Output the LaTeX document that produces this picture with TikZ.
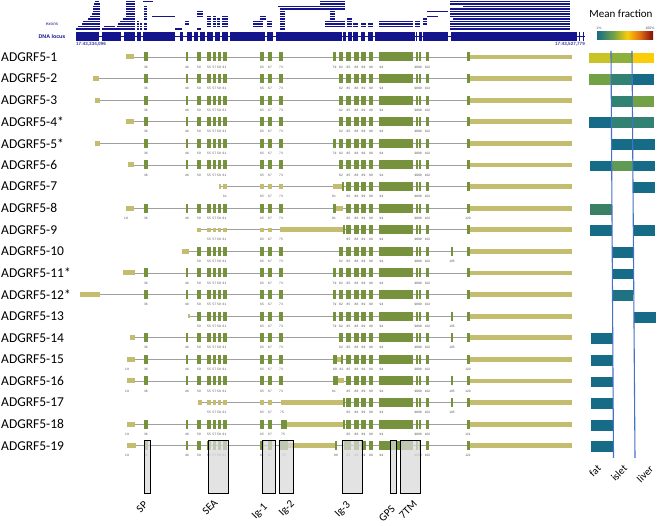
\documentclass[tikz,border=0pt]{standalone}
\usepackage{fontspec}
\setmainfont{Carlito}
\newfontfamily\arialf{Liberation Sans}
\definecolor{cdsc}{RGB}{118,146,60}
\definecolor{utrc}{RGB}{196,189,112}
\definecolor{navyc}{RGB}{20,20,140}
\definecolor{tealc}{RGB}{22,108,135}
\definecolor{tgreen}{RGB}{50,130,115}
\definecolor{sgreen}{RGB}{58,128,100}
\definecolor{mgreen}{RGB}{115,162,70}
\definecolor{lgreen}{RGB}{95,155,85}
\definecolor{ogreen}{RGB}{140,176,60}
\definecolor{ygreen}{RGB}{200,196,40}
\definecolor{yelc}{RGB}{250,205,10}
\definecolor{orc}{RGB}{225,115,20}
\definecolor{drc}{RGB}{130,10,10}
\definecolor{lineb}{RGB}{68,114,196}
\definecolor{numc}{RGB}{80,80,80}
\pgfdeclarehorizontalshading{heat}{100bp}{color(0bp)=(tealc); color(25bp)=(tealc); color(40bp)=(mgreen); color(52bp)=(yelc); color(63bp)=(orc); color(75bp)=(drc); color(100bp)=(drc)}
\tikzset{
  intr/.style={draw=gray!75, line width=0.7pt},
  num/.style={font=\arialf\fontsize{3.2}{3.5}\selectfont, text=numc, inner sep=0pt},
  rowlab/.style={font=\fontsize{13.5}{15}\selectfont, anchor=west, inner sep=0pt},
  domlab/.style={font=\fontsize{11}{12}\selectfont, rotate=45, inner sep=0pt},
  tislab/.style={font=\fontsize{10.5}{11}\selectfont, rotate=45, inner sep=0pt},
  dombox/.style={draw=black, line width=0.6pt, fill=gray!30, fill opacity=0.75},
  vline/.style={draw=lineb, line width=1.1pt}
}
\newcommand\XC[2]{\fill[cdsc] (#1,-4.5) rectangle (#2,4.5);}
\newcommand\XU[2]{\fill[utrc] (#1,-2.5) rectangle (#2,2.5);}
\newcommand\XN[2]{\fill[utrc] (#1,-2.2) rectangle (#2,2.2);}
\newcommand\XL[2]{\node[num] at (#1,10) {#2};}
\newcommand\XI[2]{\draw[intr] (#1,0) -- (#2,0);}
\newcommand\gA{\XC{144}{147.5}}
\newcommand\gAl{\XL{145.8}{36}}
\newcommand\gF{\XC{186}{188}}
\newcommand\gFl{\XL{187}{46}}
\newcommand\gG{\XC{197}{201}\XC{207}{211}\XC{213}{216}\XC{217.5}{220.5}\XC{223}{227}\XC{260}{264}\XC{268}{272}}
\newcommand\gGl{\XL{199}{50}\XL{209}{55}\XL{214.5}{57}\XL{219}{59}\XL{224.5}{61}\XL{262}{65}\XL{270}{67}}
\newcommand\gS{\XC{279}{283}}
\newcommand\gSl{\XL{281}{73}}
\newcommand\gP{\XC{333}{336}}
\newcommand\gPl{\XL{334.5}{79}}
\newcommand\gQ{\XC{339}{343}}
\newcommand\gQl{\XL{341}{82}}
\newcommand\gK{\XC{346}{351}\XC{354}{359}\XC{361}{366}\XC{369}{373}\XC{379}{413}\XC{415.5}{417.5}\XC{419}{421}\XC{426}{428.5}}
\newcommand\gKl{\XL{348.5}{85}\XL{356.5}{88}\XL{363.5}{89}\XL{371}{90}\XL{381.5}{94}\XL{416.3}{98}\XL{419.8}{99}\XL{427.5}{102}}
\newcommand\gV{\XC{451}{453}}
\newcommand\gVl{\XL{452}{105}}
\newcommand\gE{\XC{467}{469.5}\fill[utrc] (469.5,-2.4) rectangle (572,2.4);}
\newcommand\TB[3]{\fill[navyc] (#1,{29-2.5*#3-0.8}) rectangle (#2,{29-2.5*#3+0.8});}
\newcommand\TC[4]{\foreach \kk in {#3,...,#4}{\TB{#1}{#2}{\kk}}}
\newcommand\HC[3]{\fill[#3] (#1,-4.3) rectangle (#2,6.5);}
\begin{document}
\begin{tikzpicture}[x=1pt,y=-1pt]
\useasboundingbox (0,0) rectangle (657,526);
% ---------- exons track ----------
\TB{76}{100}{0}\TB{78}{100}{1}\TB{82}{100}{2}\TB{83}{100}{3}\TB{88}{100}{4}\TB{90}{100}{5}\TB{92}{100}{6}\TC{93}{100}{7}{9}\TB{94}{100}{10}\TB{95}{99}{11}
\TB{102}{116}{0}\TB{104}{115}{1}
\TB{116}{135}{0}\TB{117}{135}{1}\TB{118}{135}{2}\TB{120}{135}{3}\TB{123}{135}{4}\TC{126}{135}{5}{11}
\TC{137}{139}{0}{3}\TC{140}{142}{0}{2}
\TB{143}{153}{11}\TC{144}{147}{4}{9}\TC{144}{147}{0}{2}
\TB{152}{175}{5}
\TB{175}{182}{0}
\TC{185}{189}{2}{3}
\TC{197}{203}{5}{7}\TB{197}{201}{0}
\TC{207}{211}{1}{5}\TC{213}{216}{1}{5}\TC{217}{220}{1}{4}\TC{222}{228}{1}{5}
\TC{253}{263}{1}{3}\TC{260}{266}{4}{5}\TC{267}{272}{1}{3}
\TC{280}{285}{0}{7}\TB{278}{345}{9}\TB{280}{345}{8}\TC{320}{345}{10}{11}
\TC{330}{335}{4}{7}\TC{325}{345}{1}{3}
\TC{347}{352}{1}{4}\TC{353}{358}{1}{2}\TC{361}{366}{1}{2}\TC{368}{373}{1}{2}
\TC{379}{413}{1}{3}
\TC{415}{420}{1}{3}
\TC{423}{427}{2}{4}
\TB{427}{448}{7}\TB{427}{438}{5}
\TC{450}{570}{0}{3}\TB{453}{570}{4}\TC{450}{570}{5}{8}\TB{463}{570}{9}\TC{450}{570}{10}{11}
% ---------- DNA locus ----------
\draw[navyc, line width=1pt] (76,36.2) -- (585,36.2);
\foreach \a/\b in {76/99,102/121,124/135,137/141,143/175,180/183,187/192,194/198,200/205,207/213,215/220,222/228,230/265,267/273,276/342,343/346,348/352,353/358,361/365,368/373,375/415,416/417.3,419/422,423/448,451/577,579/580,583/584}
  \fill[navyc] (\a,31.7) rectangle (\b,40.7);
\node[font=\arialf\itshape\fontsize{4.5}{5}\selectfont, text=navyc] (exl) at (52,24) {exons};
\node[font=\arialf\bfseries\fontsize{5.3}{6}\selectfont, text=navyc] (dnal) at (52,36.2) {DNA locus};
\node[font=\arialf\bfseries\fontsize{4.6}{5}\selectfont, text=navyc!80] (c1) at (91,44.5) {17:43,334,096};
\node[font=\arialf\bfseries\fontsize{4.6}{5}\selectfont, text=navyc!80] (c2) at (570,44.5) {17:43,527,779};
% ---------- colour bar ----------
\node[font=\fontsize{11}{12}\selectfont] (mf) at (621,13.5) {Mean fraction};
\shade[shading=heat] (597,32) rectangle (653,39.5);
\node[font=\arialf\fontsize{3.5}{4}\selectfont, text=numc] (p1) at (599,28) {1\%};
\node[font=\arialf\fontsize{3.5}{4}\selectfont, text=numc] (p100) at (650,28) {100\%};
% ---------- transcripts ----------
\begin{scope}[shift={(0,57)}]
\XI{126}{468}\XU{126}{134}\gA\gF\gG\gS\gP\gQ\gK\gE
\gAl\gFl\gGl\gSl\gPl\gQl\gKl
\end{scope}
\begin{scope}[shift={(0,78.6)}]
\XI{93}{468}\XU{93}{99}\gA\gF\gG\gS\gQ\gK\gE
\gAl\gFl\gGl\gSl\gQl\gKl
\end{scope}
\begin{scope}[shift={(0,100.2)}]
\XI{95}{468}\XU{95}{99.5}\gA\gF\gG\gS\gQ\gK\gE
\gAl\gFl\gGl\gSl\gQl\gKl
\end{scope}
\begin{scope}[shift={(0,121.8)}]
\XI{126}{468}\XU{126}{134}\gA\gF\gG\gS\gQ\gK\gE
\gAl\gFl\gGl\gSl\gQl\gKl
\end{scope}
\begin{scope}[shift={(0,143.4)}]
\XI{95}{468}\XU{95}{99.5}\gA\gF\gG\gS\gP\gQ\gK\gE
\gAl\gFl\gGl\gSl\gPl\gQl\gKl
\end{scope}
\begin{scope}[shift={(0,165)}]
\XI{128}{468}\XU{128}{134}\gA\gF\gG\gS\gQ\gK\gE
\gAl\gFl\gGl\gSl\gQl\gKl
\end{scope}
\begin{scope}[shift={(0,186.6)}]
\XI{219}{468}\XN{219}{221}\XN{223}{227}\XN{260}{264}\XN{268}{272}\XN{279}{283}\XU{333}{342}\XC{342}{344}\gK\gE
\XL{225}{61}\XL{262}{65}\XL{270}{67}\XL{281}{73}\XL{334}{81}\gKl
\end{scope}
\begin{scope}[shift={(0,208.2)}]
\XI{126}{468}\XU{126}{134}\gA\gF\gG\gS\XC{333}{336}\XU{336}{343}\gK\gE
\XL{126}{19}\gAl\gFl\gGl\gSl\XL{334}{81}\gKl\XL{468}{120}
\end{scope}
\begin{scope}[shift={(0,229.8)}]
\XI{197}{468}\XN{197}{201}\XN{207}{211}\XN{213}{216}\XN{217.5}{220.5}\XN{223}{227}\XN{260}{264}\XN{268}{272}\XU{280}{343}\XC{343}{344.5}\gK\gE
\XL{209}{55}\XL{214.5}{57}\XL{219}{59}\XL{224.5}{61}\XL{262}{65}\XL{270}{67}\XL{281}{75}\gKl
\end{scope}
\begin{scope}[shift={(0,251.4)}]
\XI{182}{468}\XU{182}{189}\gG\gS\gQ\gK\gV\gE
\gGl\gSl\gQl\gKl\gVl
\end{scope}
\begin{scope}[shift={(0,273)}]
\XI{123}{468}\XU{123}{135}\gA\gF\gG\gS\gP\gQ\gK\gE
\gAl\gFl\gGl\gSl\gPl\gQl\gKl
\end{scope}
\begin{scope}[shift={(0,294.6)}]
\XI{80}{468}\XU{80}{100}\gA\gF\gG\gS\gP\gQ\gK\gE
\gAl\gFl\gGl\gSl\gPl\gQl\gKl
\end{scope}
\begin{scope}[shift={(0,316.2)}]
\XI{188}{468}\XN{188}{189.5}\gG\gS\gP\gQ\gK\gV\gE
\gGl\gSl\gPl\gQl\gKl\gVl
\end{scope}
\begin{scope}[shift={(0,337.8)}]
\XI{130}{468}\XU{130}{135}\gA\gF\gG\gS\gQ\gK\gV\gE
\gAl\gFl\gGl\gSl\gQl\gKl\gVl
\end{scope}
\begin{scope}[shift={(0,359.4)}]
\XI{127}{468}\XU{127}{135}\gA\gF\gG\gS\XC{333}{337}\XU{337}{341}\XC{341}{343}\gK\gE
\XL{127}{19}\gAl\gFl\gGl\gSl\XL{335}{80}\XL{341.5}{82}\gKl\XL{468}{120}
\end{scope}
\begin{scope}[shift={(0,381)}]
\XI{127}{468}\XU{127}{135}\gA\gF\gG\gS\XC{333}{338}\XU{338}{344}\gK\gV\gE
\XL{127}{19}\gAl\gFl\gGl\gSl\XL{334}{81}\gKl\gVl\XL{468}{120}
\end{scope}
\begin{scope}[shift={(0,402.6)}]
\XI{198}{468}\XN{198}{202}\XN{207}{211}\XN{213}{216}\XN{217.5}{220.5}\XN{223}{227}\XN{260}{264}\XN{268}{272}\XU{281}{343}\XC{343}{344.5}\gK\gV\gE
\XL{209}{55}\XL{214.5}{57}\XL{219}{59}\XL{224.5}{61}\XL{262}{65}\XL{270}{67}\XL{282}{75}\gKl\gVl
\end{scope}
\begin{scope}[shift={(0,424.2)}]
\XI{127}{468}\XU{127}{135}\gA\gF\gG\XC{281}{287}\XU{287}{343}\XC{343}{344.5}\gK\gE
\XL{127}{19}\gAl\gFl\gGl\XL{283}{75}\gKl\XL{468}{121}
\end{scope}
\begin{scope}[shift={(0,445.8)}]
\XI{127}{468}\XU{127}{136}\gA\gF\gG\XC{280}{288}\XU{288}{335}\XC{335}{337}\XC{344}{346}\gK\gE
\XL{127}{19}\gAl\gFl\gGl\XL{284}{75}\XL{336}{80}\gKl\XL{468}{121}
\end{scope}
% ---------- row labels ----------
\foreach \i/\t in {1/ADGRF5-1,2/ADGRF5-2,3/ADGRF5-3,4/ADGRF5-4*,5/ADGRF5-5*,6/ADGRF5-6,7/ADGRF5-7,8/ADGRF5-8,9/ADGRF5-9,10/ADGRF5-10,11/ADGRF5-11*,12/ADGRF5-12*,13/ADGRF5-13,14/ADGRF5-14,15/ADGRF5-15,16/ADGRF5-16,17/ADGRF5-17,18/ADGRF5-18,19/ADGRF5-19}
  \node[rowlab] (r\i) at (1,{57+(\i-1)*21.6}) {\t};
% ---------- domain boxes ----------
\foreach \n/\a/\b in {sp/144/150,sea/208/228,ig1/262/275,ig2/279/293,ig3/342/362,gps/390/396,tm/400/420}
  \draw[dombox] (\a,440) rectangle (\b,493);
\node[domlab] (lsp) at (142,507) {SP};
\node[domlab] (lsea) at (210,507) {SEA};
\node[domlab] (lig1) at (260,512) {Ig-1};
\node[domlab] (lig2) at (287,509) {Ig-2};
\node[domlab] (lig3) at (343,510) {Ig-3};
\node[domlab] (lgps) at (387,514) {GPS};
\node[domlab] (ltm) at (408,510) {7TM};
% ---------- heat map ----------
\begin{scope}[shift={(0,57)}]\HC{589}{611}{ygreen}\HC{611}{632}{ogreen}\HC{632}{654}{yelc}\end{scope}
\begin{scope}[shift={(0.13,78.6)}]\HC{589}{611}{mgreen}\HC{611}{632}{tgreen}\HC{632}{654}{tealc}\end{scope}
\begin{scope}[shift={(0.26,100.2)}]\HC{611}{632}{tgreen}\HC{632}{654}{mgreen}\end{scope}
\begin{scope}[shift={(0.39,121.8)}]\HC{589}{611}{tealc}\HC{611}{632}{tgreen}\HC{632}{654}{tgreen}\end{scope}
\begin{scope}[shift={(0.52,143.4)}]\HC{611}{632}{tealc}\HC{632}{654}{tealc}\end{scope}
\begin{scope}[shift={(0.65,165)}]\HC{589}{611}{tealc}\HC{611}{632}{lgreen}\HC{632}{654}{tealc}\end{scope}
\begin{scope}[shift={(0.78,186.6)}]\HC{632}{654}{tealc}\end{scope}
\begin{scope}[shift={(0.91,208.2)}]\HC{589}{611}{sgreen}\end{scope}
\begin{scope}[shift={(1.04,229.8)}]\HC{589}{611}{tealc}\HC{632}{654}{tealc}\end{scope}
\begin{scope}[shift={(1.17,251.4)}]\HC{611}{632}{tealc}\end{scope}
\begin{scope}[shift={(1.30,273)}]\HC{611}{632}{tealc}\end{scope}
\begin{scope}[shift={(1.43,294.6)}]\HC{611}{632}{tealc!70!tgreen}\end{scope}
\begin{scope}[shift={(1.56,316.2)}]\HC{632}{654}{tealc}\end{scope}
\foreach \i in {14,...,19}
  \begin{scope}[shift={({0.13*(\i-1)},{57+(\i-1)*21.6})}]\HC{589}{611}{tealc}\end{scope};
\draw[vline] (611,51) -- (613.5,458);
\draw[vline] (632,51) -- (635,458);
\node[tislab] (lfat) at (595,471) {fat};
\node[tislab] (lisl) at (619,473) {islet};
\node[tislab] (lliv) at (645,474) {liver};
\end{tikzpicture}
\end{document}
